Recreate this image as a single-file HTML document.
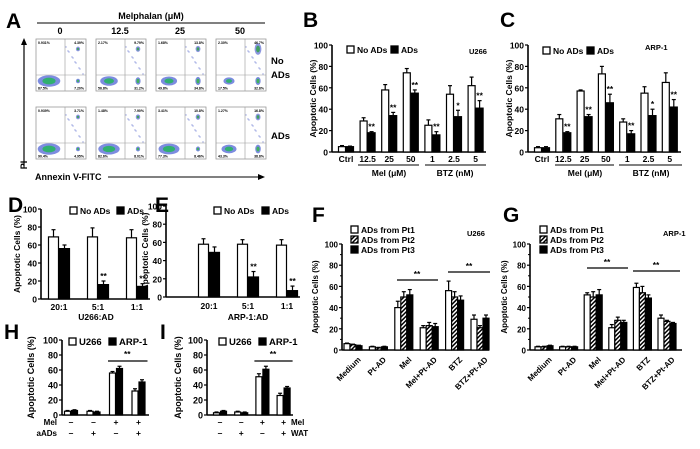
<!DOCTYPE html>
<html><head><meta charset="utf-8"><style>
html,body{margin:0;padding:0;background:#fff;}
svg{display:block;font-family:"Liberation Sans",Arial,sans-serif;font-weight:bold;}
</style></head><body>
<svg id="fig" width="700" height="449" viewBox="0 0 700 449" xmlns="http://www.w3.org/2000/svg"></svg>
<script>
// ---- Panel B data ----
const bCats = ["Ctrl","12.5","25","50","1","2.5","5"];
const bNoAD = [5,29,58,74,25,54,62];
const bAD = [5,18,34,55,16,33,41];
const bNoADErr = [1,3,5,4,5,8,8];
const bADErr = [0.5,1,3,3,3,6,7];
const bStars = ["","**","**","**","**","*","**"];
// ---- Panel C data ----
const cCats = ["Ctrl","12.5","25","50","1","2.5","5"];
const cNoAD = [4,31,57,73,28,55,65];
const cAD = [4,18,33,46,17,34,42];
const cNoADErr = [1,4,1,7,3,6,9];
const cADErr = [1,1,2,8,3,6,7];
const cStars = ["","**","**","**","**","*","**"];
// ---- Panel D data ----
const dCats = ["20:1","5:1","1:1"];
const dNoAD = [69,69,68];
const dAD = [56,16,14];
const dNoADErr = [8,10,9];
const dADErr = [4,4,3];
const dStars = ["","**","**"];
// ---- Panel E data ----
const eCats = ["20:1","5:1","1:1"];
const eNoAD = [58,58,57];
const eAD = [49,22,7];
const eNoADErr = [6,5,6];
const eADErr = [6,6,5];
const eStars = ["","**","**"];
// ---- Panel F data ----
const fCats = ["Medium","Pt-AD","Mel","Mel+Pt-AD","BTZ","BTZ+Pt-AD"];
const fPt1 = [6,3,40,21,56,29];
const fPt2 = [5,2,50,23,50,21];
const fPt3 = [4,3,52,22,47,30];
const fPt1Err = [0.5,0.5,6,2,9,4];
const fPt2Err = [0.5,0.5,5,3,5,2];
const fPt3Err = [0.5,0.5,5,3,4,3];
// ---- Panel G data ----
const gCats = ["Medium","Pt-AD","Mel","Mel+Pt-AD","BTZ","BTZ+Pt-AD"];
const gPt1 = [3,3,52,21,59,30];
const gPt2 = [3,3,50,28,54,27];
const gPt3 = [4,3,52,26,49,25];
const gPt1Err = [0.5,0.5,2,3,4,3];
const gPt2Err = [0.5,0.5,5,3,6,1];
const gPt3Err = [0.5,0.5,5,2,3,1];
// ---- Panel H data ----
const hMel = ["–","–","+","+"];
const hAAD = ["–","+","–","+"];
const hU266 = [5,5,56,32];
const hARP = [6,4,62,44];
const hU266Err = [1,1,2,3];
const hARPErr = [1,1,3,3];
// ---- Panel I data ----
const iMel = ["–","–","+","+"];
const iWAT = ["–","+","–","+"];
const iU266 = [3,4,51,26];
const iARP = [5,3,61,36];
const iU266Err = [1,1,4,3];
const iARPErr = [1,1,4,2];
// ---- Panel A data ----
const aDoses = ["0","12.5","25","50"];
const aNoADs = [["0.931%","4.39%","87.5%","7.20%"],["2.17%","9.79%","56.8%","31.2%"],["1.68%","13.8%","49.8%","34.8%"],["2.30%","46.7%","17.5%","32.8%"]];
const aADs = [["0.939%","3.71%","90.4%","4.95%"],["1.48%","7.90%","82.6%","8.01%"],["3.41%","10.8%","77.3%","8.46%"],["1.27%","16.8%","43.3%","38.8%"]];
const aApopHi = [0.05,0.3,0.35,0.33];
const aLateHi = [0.04,0.1,0.14,0.47];
const aApopLo = [0.05,0.08,0.08,0.39];
const aLateLo = [0.04,0.08,0.11,0.17];

const NS="http://www.w3.org/2000/svg";
const svg=document.getElementById('fig');
function mk(tag,attrs,parent){const e=document.createElementNS(NS,tag);for(const k in attrs)e.setAttribute(k,attrs[k]);(parent||svg).appendChild(e);return e;}
function txt(x,y,s,size,anchor,parent,extra){const t=mk('text',Object.assign({x:x,y:y,'font-size':size,'text-anchor':anchor||'start',fill:'#000'},extra||{}),parent);t.textContent=s;return t;}

const defs=mk('defs',{});
const pat=mk('pattern',{id:'hatch',width:3,height:3,patternUnits:'userSpaceOnUse',patternTransform:'rotate(45)'},defs);
mk('rect',{width:3,height:3,fill:'#fff'},pat);
mk('rect',{width:1.5,height:3,fill:'#000'},pat);

function letter(x,y,s){const t=txt(x,y,s,21,'start');}

function yAxis(g,ax,y0,y100,ticks,fs,ytitle,tx){
  const sy=v=>y0-(y0-y100)*v/100;
  mk('line',{x1:ax,y1:y0,x2:ax,y2:y100,stroke:'#000','stroke-width':1.6},g);
  ticks.forEach(v=>{mk('line',{x1:ax-3,y1:sy(v),x2:ax,y2:sy(v),stroke:'#000','stroke-width':1.2},g);
    txt(ax-4,sy(v)+3.5,String(v),fs,'end',g);});
  const t=txt(tx,(y0+y100)/2,ytitle,fs,'middle',g,{transform:'rotate(-90 '+tx+' '+((y0+y100)/2)+')'});
  
  return sy;
}
function bar(g,x,w,y0,v,sy,fill,err,name){
  const r=mk('rect',{x:x,y:sy(v),width:w,height:y0-sy(v),fill:fill,stroke:'#000','stroke-width':1.2},g);
  
  
  const cx=x+w/2,top=sy(v+err);
  mk('line',{x1:cx,y1:sy(v),x2:cx,y2:top,stroke:'#000','stroke-width':1.2},g);
  mk('line',{x1:cx-2,y1:top,x2:cx+2,y2:top,stroke:'#000','stroke-width':1.2},g);
}
function legendBox(g,x,y,fill,label,fs){
  mk('rect',{x:x,y:y-7,width:7,height:7,fill:fill,stroke:'#000','stroke-width':1.3},g);
  txt(x+10,y,label,fs,'start',g);
}

function twoSeries(o){
  const g=mk('g',{});
  
  
  const sy=yAxis(g,o.ax,o.y0,o.y100,[0,20,40,60,80,100],o.fs,'Apoptotic Cells (%)',o.tx);
  mk('line',{x1:o.ax,y1:o.y0,x2:o.xEnd,y2:o.y0,stroke:'#000','stroke-width':1.6},g);
  const cx=i=>o.start+o.step*i;
  o.s1.forEach((v,i)=>{
    bar(g,cx(i)-o.w-0.5,o.w,o.y0,v,sy,'#fff',o.e1[i],'bar-'+o.key1+'-'+i);
    bar(g,cx(i)+0.5,o.w,o.y0,o.s2[i],sy,'#000',o.e2[i],'bar-'+o.key2+'-'+i);
    if(o.stars&&o.stars[i]) txt(cx(i)+0.5+o.w/2,sy(o.s2[i]+o.e2[i])-2,o.stars[i],o.fs,'middle',g);
    if(o.cats) txt(cx(i),o.y0+o.catDy,o.cats[i],o.fs,'middle',g);
  });
  return {g:g,sy:sy,cx:cx};
}

// ===== Panel A =====
(function(){
  const g=mk('g',{});
  
  
  letter(6,28,'A');
  txt(151,19,'Melphalan (μM)',9,'middle',g);
  mk('line',{x1:37,y1:23,x2:265,y2:23,stroke:'#000','stroke-width':1},g);
  const colX=[36,96,156,216];
  aDoses.forEach((d,i)=>txt(colX[i]+24,34,d,9,'middle',g));
  const rows=[{y:39,lab:aNoADs,ap:aApopHi,la:aLateHi},{y:107,lab:aADs,ap:aApopLo,la:aLateLo}];
  rows.forEach((row,r)=>{
    colX.forEach((x,i)=>{
      const w=50,h=52,y=row.y;
      const pg=mk('g',{},g);
      
      
      mk('rect',{x:x,y:y,width:w,height:h,fill:'#fff',stroke:'#999','stroke-width':0.8},pg);
      for(let k=0;k<10;k++){mk('circle',{cx:x+30+(k*7)%18,cy:y+8+(k*11)%28,r:0.7,fill:'#99a3e0'},pg);}
      const live=1-row.ap[i]-row.la[i];
      mk('ellipse',{cx:x+13,cy:y+h-10,rx:4+8*live,ry:3+3*live,fill:'#7d8ce0'},pg);
      mk('ellipse',{cx:x+13,cy:y+h-10,rx:2+5*live,ry:1.5+2*live,fill:'#30b070'},pg);
      mk('ellipse',{cx:x+42,cy:y+h-10,rx:2+2*row.ap[i],ry:2+6*row.ap[i],fill:'#7d8ce0'},pg);
      mk('ellipse',{cx:x+42,cy:y+h-10,rx:1+1.5*row.ap[i],ry:1+4*row.ap[i],fill:'#40b060'},pg);
      mk('ellipse',{cx:x+42,cy:y+10,rx:2+3*row.la[i],ry:2+8*row.la[i],fill:'#8c96e0'},pg);
      mk('ellipse',{cx:x+42,cy:y+10,rx:1+2*row.la[i],ry:1+5*row.la[i],fill:'#40a060'},pg);
      mk('line',{x1:x+29,y1:y,x2:x+29,y2:y+h,stroke:'#999','stroke-width':0.6},pg);
      mk('line',{x1:x,y1:y+36,x2:x+w,y2:y+36,stroke:'#999','stroke-width':0.6},pg);
      const L=row.lab[i];
      txt(x+2,y+5,L[0],3.5,'start',pg);txt(x+w-2,y+5,L[1],3.5,'end',pg);
      txt(x+2,y+h-1.5,L[2],3.5,'start',pg);txt(x+w-2,y+h-1.5,L[3],3.5,'end',pg);
    });
  });
  txt(271,64,'No',9.5,'start',g);txt(271,78,'ADs',9.5,'start',g);
  txt(271,139,'ADs',9.5,'start',g);
  mk('line',{x1:24,y1:166,x2:24,y2:44,stroke:'#000','stroke-width':1.2},g);
  mk('polygon',{points:'24,38 21,45 27,45',fill:'#000'},g);
  txt(27,165,'PI',9,'middle',g,{transform:'rotate(-90 27 165)'});
  txt(35,180,'Annexin V-FITC',9,'start',g);
  mk('line',{x1:108,y1:177,x2:258,y2:177,stroke:'#000','stroke-width':1},g);
  mk('polygon',{points:'265,177 258,174 258,180',fill:'#000'},g);
})();

// ===== Panel B =====
letter(303,27,'B');
(function(){
  const r=twoSeries({name:'panel-b-u266-chart',ax:332,y0:152,y100:45,xEnd:486,fs:8.5,tx:316,start:346,step:21.6,w:7,
    s1:bNoAD,s2:bAD,e1:bNoADErr,e2:bADErr,key1:'no-ads',key2:'ads',stars:bStars,cats:bCats,catDy:10});
  const g=r.g;
  legendBox(g,347,53,'#fff','No ADs',8.5);legendBox(g,391,53,'#000','ADs',8.5);
  txt(469,54,'U266',7.5,'start',g);
  mk('line',{x1:358,y1:165,x2:419,y2:165,stroke:'#000','stroke-width':1},g);
  mk('line',{x1:425,y1:165,x2:486,y2:165,stroke:'#000','stroke-width':1},g);
  txt(389,176,'Mel (μM)',8.5,'middle',g);txt(455,176,'BTZ (nM)',8.5,'middle',g);
})();

// ===== Panel C =====
letter(500,27,'C');
(function(){
  const r=twoSeries({name:'panel-c-arp1-chart',ax:528,y0:152,y100:45,xEnd:681,fs:8.5,tx:512,start:542,step:21.3,w:7,
    s1:cNoAD,s2:cAD,e1:cNoADErr,e2:cADErr,key1:'no-ads',key2:'ads',stars:cStars,cats:cCats,catDy:10});
  const g=r.g;
  legendBox(g,543,54,'#fff','No ADs',8.5);legendBox(g,587,54,'#000','ADs',8.5);
  txt(645,50,'ARP-1',7.5,'start',g);
  mk('line',{x1:555,y1:165,x2:614,y2:165,stroke:'#000','stroke-width':1},g);
  mk('line',{x1:619,y1:165,x2:682,y2:165,stroke:'#000','stroke-width':1},g);
  txt(585,176,'Mel (μM)',8.5,'middle',g);txt(651,176,'BTZ (nM)',8.5,'middle',g);
})();

// ===== Panel D =====
letter(8,212,'D');
(function(){
  const r=twoSeries({name:'panel-d-u266-ratio-chart',ax:41,y0:299,y100:209,xEnd:150,fs:8.5,tx:20,start:59,step:39,w:10,
    s1:dNoAD,s2:dAD,e1:dNoADErr,e2:dADErr,key1:'no-ads',key2:'ads',stars:dStars,cats:dCats,catDy:11});
  const g=r.g;
  legendBox(g,70,214,'#fff','No ADs',8.5);legendBox(g,117,214,'#000','ADs',8.5);
  txt(96,320,'U266:AD',8.5,'middle',g);
})();

// ===== Panel E =====
letter(155,212,'E');
(function(){
  const r=twoSeries({name:'panel-e-arp1-ratio-chart',ax:166,y0:297,y100:206,xEnd:300,fs:8.5,tx:148,start:209,step:39,w:10,
    s1:eNoAD,s2:eAD,e1:eNoADErr,e2:eADErr,key1:'no-ads',key2:'ads',stars:eStars,cats:eCats,catDy:12});
  const g=r.g;
  legendBox(g,214,214,'#fff','No ADs',8.5);legendBox(g,262,214,'#000','ADs',8.5);
  txt(248,320,'ARP-1:AD',8.5,'middle',g);
})();

// ===== Panels F & G =====
function threeSeries(o){
  const g=mk('g',{});
  
  
  const sy=yAxis(g,o.ax,o.y0,o.y100,[0,20,40,60,80,100],8,'Apoptotic Cells (%)',o.tx);
  [10,30,50,70,90].forEach(v=>mk('line',{x1:o.ax-2,y1:sy(v),x2:o.ax,y2:sy(v),stroke:'#000','stroke-width':1},g));
  mk('line',{x1:o.ax,y1:o.y0,x2:o.xEnd,y2:o.y0,stroke:'#000','stroke-width':1.6},g);
  const cx=i=>o.start+o.step*i;const w=6;
  o.cats.forEach((c,i)=>{
    bar(g,cx(i)-w*1.5,w,o.y0,o.s1[i],sy,'#fff',o.e1[i],'bar-pt1-'+i);
    bar(g,cx(i)-w*0.5,w,o.y0,o.s2[i],sy,'url(#hatch)',o.e2[i],'bar-pt2-'+i);
    bar(g,cx(i)+w*0.5,w,o.y0,o.s3[i],sy,'#000',o.e3[i],'bar-pt3-'+i);
    const lx=cx(i)+4,ly=o.y0+6;
    txt(lx,ly+6,c,8,'end',g,{transform:'rotate(-45 '+lx+' '+ly+')'});
  });
  legendBox(g,o.lx,233,'#fff','ADs from Pt1',8.5);
  legendBox(g,o.lx,243,'url(#hatch)','ADs from Pt2',8.5);
  legendBox(g,o.lx,253,'#000','ADs from Pt3',8.5);
  return {g:g,sy:sy,cx:cx};
}
letter(312,222,'F');
(function(){
  const r=threeSeries({name:'panel-f-u266-patient-ads',ax:342,y0:350,y100:244,xEnd:489,tx:318,start:353,step:25.4,lx:351,
    cats:fCats,s1:fPt1,s2:fPt2,s3:fPt3,e1:fPt1Err,e2:fPt2Err,e3:fPt3Err});
  const g=r.g;
  txt(467,236,'U266',7.5,'start',g);
  mk('line',{x1:397,y1:280,x2:438,y2:280,stroke:'#000','stroke-width':1.2},g);txt(417,277,'**',8.5,'middle',g);
  mk('line',{x1:448,y1:272,x2:490,y2:272,stroke:'#000','stroke-width':1.2},g);txt(469,269,'**',8.5,'middle',g);
})();
letter(503,222,'G');
(function(){
  const r=threeSeries({name:'panel-g-arp1-patient-ads',ax:530,y0:350,y100:244,xEnd:682,tx:507,start:544,step:24.6,lx:540,
    cats:gCats,s1:gPt1,s2:gPt2,s3:gPt3,e1:gPt1Err,e2:gPt2Err,e3:gPt3Err});
  const g=r.g;
  txt(663,236,'ARP-1',7.5,'start',g);
  mk('line',{x1:587,y1:268,x2:628,y2:268,stroke:'#000','stroke-width':1.2},g);txt(607,265,'**',8.5,'middle',g);
  mk('line',{x1:633,y1:271,x2:680,y2:271,stroke:'#000','stroke-width':1.2},g);txt(656,268,'**',8.5,'middle',g);
})();

// ===== Panels H & I =====
function hiPanel(o){
  const g=mk('g',{});
  
  
  const sy=yAxis(g,o.ax,o.y0,o.y100,[0,20,40,60,80,100],9,'Apoptotic Cells (%)',o.tx);
  mk('line',{x1:o.ax,y1:o.y0,x2:o.xEnd,y2:o.y0,stroke:'#000','stroke-width':1.6},g);
  const cx=i=>o.start+o.step*i;const w=6;
  o.s1.forEach((v,i)=>{
    bar(g,cx(i)-w-0.5,w,o.y0,v,sy,'#fff',o.e1[i],'bar-u266-'+i);
    bar(g,cx(i)+0.5,w,o.y0,o.s2[i],sy,'#000',o.e2[i],'bar-arp1-'+i);
    txt(cx(i),o.y0+10,o.r1[i],8.5,'middle',g);
    txt(cx(i),o.y0+21,o.r2[i],8.5,'middle',g);
  });
  legendBox(g,o.lx,345,'#fff','U266',9.5);legendBox(g,o.lx+40,345,'#000','ARP-1',9.5);
  mk('line',{x1:cx(2)-8,y1:361,x2:cx(3)+9,y2:361,stroke:'#000','stroke-width':1.2},g);
  txt((cx(2)+cx(3))/2,357,'**',8.5,'middle',g);
  return g;
}
letter(4,339,'H');
(function(){
  const g=hiPanel({name:'panel-h-aads-chart',ax:62,y0:415,y100:340,xEnd:149,tx:34,start:71,step:22.5,lx:69,
    s1:hU266,s2:hARP,e1:hU266Err,e2:hARPErr,r1:hMel,r2:hAAD});
  txt(57,425,'Mel',8,'end',g);txt(57,436,'aADs',8,'end',g);
})();
letter(160,339,'I');
(function(){
  const g=hiPanel({name:'panel-i-wat-chart',ax:207,y0:415,y100:340,xEnd:293,tx:181,start:220,step:21.2,lx:219,
    s1:iU266,s2:iARP,e1:iU266Err,e2:iARPErr,r1:iMel,r2:iWAT});
  txt(291,425,'Mel',8,'start',g);txt(291,436,'WAT',8,'start',g);
})();
</script>
</body></html>
